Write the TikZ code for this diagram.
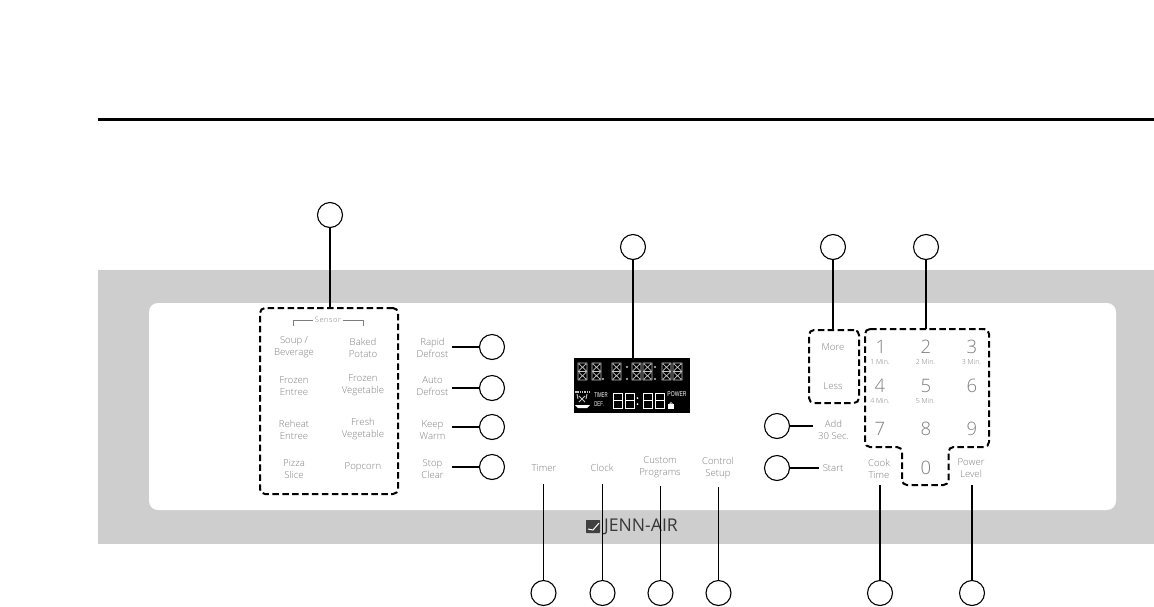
\documentclass[tikz,border=0pt]{standalone}
\usepackage{fontspec}
\setmainfont{Open Sans Light}[BoldFont={Open Sans}]
\newfontfamily\dispfont{Liberation Sans}
\definecolor{band}{HTML}{CECECE}
\definecolor{lbl}{HTML}{7E7E7E}
\definecolor{segc}{HTML}{C4C4C4}
\tikzset{
  x=1pt,y=-1pt,
  callout/.style={circle,draw=black,line width=1.1pt,fill=white,minimum size=25pt,inner sep=0pt},
  tag/.style={font=\fontsize{9.6}{12}\selectfont,text=lbl,align=center,inner sep=1pt},
  sidetag/.style={tag,minimum width=38pt},
  small/.style={font=\fontsize{7}{8}\selectfont,text=lbl,inner sep=0pt},
  num/.style={font=\fontsize{18.5}{20}\selectfont,text=lbl,inner sep=0pt},
  wire/.style={line width=1.1pt,black},
  dashbox/.style={line width=2pt,dash pattern=on 6.5pt off 3.4pt,black,rounded corners=5pt},
  seg/.style={segc,line width=.75pt},
  segb/.style={white,line width=.9pt},
  disptxt/.style={inner sep=0pt,text=white,font=\dispfont\fontsize{7}{7}\selectfont},
}
% 14-segment digit: #1 x, #2 y (top-left), w=9 h=17
\newcommand{\alnum}[2]{%
  \begin{scope}[shift={(#1,#2)}]
    \draw[seg] (0,0) rectangle (9,8.5) (0,8.5) rectangle (9,17)
      (1,1) -- (8,7.5) (8,1) -- (1,7.5) (1,9.5) -- (8,16) (8,9.5) -- (1,16);
  \end{scope}}
\newcommand{\sevseg}[2]{%
  \begin{scope}[shift={(#1,#2)}]
    \draw[segb] (0,0) rectangle (9,7.5) (0,7.5) rectangle (9,15);
  \end{scope}}
\begin{document}
\begin{tikzpicture}
\useasboundingbox (0,0) rectangle (1154,606);
\fill[white] (0,0) rectangle (1154,606);
\coordinate (ruleL) at (98,119);
\coordinate (ruleR) at (1154,119);
\draw[line width=3pt,black] (ruleL) -- (ruleR);
\fill[band] (98,270) rectangle (1154,544);
\fill[white,rounded corners=9pt] (149,303) rectangle (1116,510);

% logo
\fill[black!75,rounded corners=.6pt] (586,520) rectangle (600,533);
\draw[white,line width=1pt] (588,529) -- (593,530) -- (599,523);
\node[inner sep=0pt,font=\fontsize{17.6}{18}\selectfont\bfseries,text=black!78] (logo) at (641,527) {JENN-AIR};

% display
\node[fill=black,minimum width=116pt,minimum height=55pt,inner sep=0pt] (display) at (632,385.5) {};
\alnum{578}{363}\alnum{592}{363}\alnum{612}{363}\alnum{632}{363}\alnum{643}{363}\alnum{662}{363}\alnum{673}{363}
\fill[segc] (603,379) circle (1.1) (627,367) circle (1.1) (627,379) circle (1.1) (655,367) circle (1.1) (655,379) circle (1.1);
\sevseg{613.5}{393}\sevseg{625}{393}\sevseg{643}{393}\sevseg{655.5}{393}
\fill[white] (637.5,398) circle (1) (637.5,404) circle (1);
\draw[segc,line width=1.2pt,dash pattern=on 1.5pt off .8pt] (575,392) -- (589,392);
\draw[segc,line width=.9pt] (577,394) -- (578,399) (587,394) -- (586,399) (579,396) -- (585,402) (585,396) -- (579,402);
\fill[white] (575,405) -- (590,405) -- (587,408) -- (578,408) -- cycle;
\node[disptxt] (timerdisp) at (601,395.5) {\scalebox{.62}[1]{TIMER}};
\node[disptxt] (defdisp) at (599,404) {\scalebox{.62}[1]{DEF.}};
\node[disptxt] (powerdisp) at (677,394.5) {\scalebox{.72}[1]{POWER}};
\fill[white] (668,404) rectangle (674,409);
\draw[white,line width=.7pt] (669.5,404) arc (180:360:1.5);

% sensor group
\node[dashbox,draw,minimum width=138pt,minimum height=186pt,inner sep=0pt] (sensor) at (329,401) {};
\node[inner sep=0pt,text=lbl,font=\fontsize{7.4}{8}\selectfont\addfontfeature{LetterSpace=8}] (sensorlbl) at (328,320) {Sensor};
\draw[lbl,line width=.6pt] (sensorlbl.west) ++(-2,0) -- (293.5,320) -- (293.5,326);
\draw[lbl,line width=.6pt] (sensorlbl.east) ++(2,0) -- (363.5,320) -- (363.5,326);
\node[tag] (soup) at (294,347.5) {Soup /\\Beverage};
\node[tag] (baked) at (363,347.5) {Baked\\Potato};
\node[tag] (frozene) at (294,386.5) {Frozen\\Entree};
\node[tag] (frozenv) at (363,385.5) {Frozen\\Vegetable};
\node[tag] (reheat) at (294,430) {Reheat\\Entree};
\node[tag] (fresh) at (363,429) {Fresh\\Vegetable};
\node[tag] (pizza) at (294,469) {Pizza\\Slice};
\node[tag] (popcorn) at (363,467.5) {Popcorn};

% left column
\node[sidetag] (rapid) at (432.5,347.5) {Rapid\\Defrost};
\node[sidetag] (auto) at (432.5,386.5) {Auto\\Defrost};
\node[sidetag] (keep) at (432.5,430) {Keep\\Warm};
\node[sidetag] (stop) at (432.5,469) {Stop\\Clear};

% centre row
\node[tag] (timer) at (544,468) {Timer};
\node[tag] (clock) at (602,468) {Clock};
\node[tag] (custom) at (660,467.5) {Custom\\Programs};
\node[tag] (control) at (718,467.5) {Control\\Setup};

% right
\node[dashbox,draw,minimum width=50pt,minimum height=73pt,inner sep=0pt] (moreless) at (834,366.5) {};
\node[tag] (more) at (833,347.5) {More};
\node[tag] (less) at (833,386) {Less};
\node[tag] (add) at (833.5,430) {Add\\30 Sec.};
\node[tag] (start) at (833,468) {Start};
\node[tag] (cook) at (879,468.5) {Cook\\Time};
\node[tag] (power) at (971,468.5) {Power\\Level};

% keypad outline
\coordinate (padtop) at (926,329);
\draw[dashbox] (865,329) -- (989,329) -- (989,447) -- (948.5,447) -- (948.5,485) -- (902,485) -- (902,447) -- (865,447) -- cycle;
\node[num] (k1) at (881,347) {1};
\node[num] (k2) at (926,347) {2};
\node[num] (k3) at (972,347) {3};
\node[num] (k4) at (880,386) {4};
\node[num] (k5) at (926,386) {5};
\node[num] (k6) at (972,386) {6};
\node[num] (k7) at (880,429) {7};
\node[num] (k8) at (926,429) {8};
\node[num] (k9) at (972,429) {9};
\node[num] (k0) at (926,468) {0};
\node[small] (m1) at (880,361.5) {1 Min.};
\node[small] (m2) at (925.5,361.5) {2 Min.};
\node[small] (m3) at (971.5,361.5) {3 Min.};
\node[small] (m4) at (880,400.5) {4 Min.};
\node[small] (m5) at (925.5,400.5) {5 Min.};

% callouts
\node[callout] (c1) at (330,215) {};
\node[callout] (c2) at (633,247) {};
\node[callout] (c3) at (833,247) {};
\node[callout] (c4) at (926,247) {};
\node[callout] (c5) at (492,347) {};
\node[callout] (c6) at (492,388) {};
\node[callout] (c7) at (492,427) {};
\node[callout] (c8) at (492,467) {};
\node[callout] (c9) at (777,426) {};
\node[callout] (c10) at (777,468) {};
\node[callout] (c11) at (543.5,593) {};
\node[callout] (c12) at (602.5,593) {};
\node[callout] (c13) at (660.5,593) {};
\node[callout] (c14) at (718.5,593) {};
\node[callout] (c15) at (880,593) {};
\node[callout] (c16) at (972,593) {};

% connectors
\draw[wire] (c1) -- (c1 |- sensor.north);
\draw[wire] (c2) -- (c2 |- display.north);
\draw[wire] (c3) -- (c3 |- moreless.north);
\draw[wire] (c4) -- (padtop);
\draw[wire] (c5) -- (c5 -| rapid.east);
\draw[wire] (c6) -- (c6 -| auto.east);
\draw[wire] (c7) -- (c7 -| keep.east);
\draw[wire] (c8) -- (c8 -| stop.east);
\draw[wire,shorten >=4pt] (c9) -- (c9 -| add.west);
\draw[wire,shorten >=3pt] (c10) -- (c10 -| start.west);
\draw[wire,shorten >=11pt] (c11) -- (c11 |- timer.south);
\draw[wire,shorten >=11pt] (c12) -- (c12 |- clock.south);
\draw[wire,shorten >=7pt] (c13) -- (c13 |- custom.south);
\draw[wire,shorten >=7pt] (c14) -- (c14 |- control.south);
\draw[wire,shorten >=6pt] (c15) -- (c15 |- cook.south);
\draw[wire,shorten >=6pt] (c16) -- (c16 |- power.south);
\end{tikzpicture}
\end{document}
